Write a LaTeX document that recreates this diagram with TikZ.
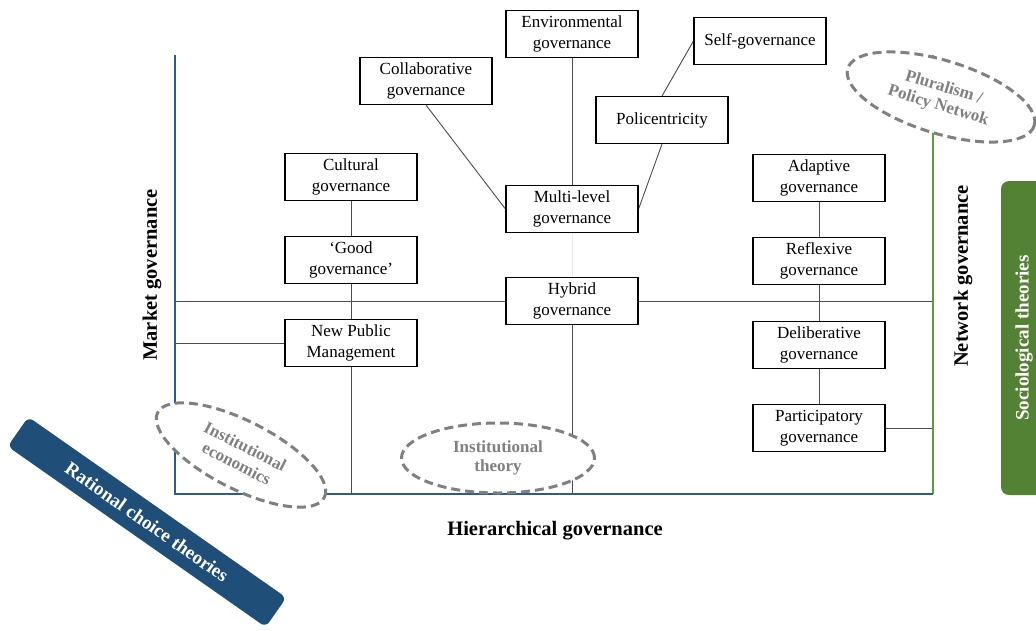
\documentclass[tikz,border=0pt]{standalone}
\usepackage{fontspec}
\setmainfont{Liberation Serif}
\usetikzlibrary{shapes.geometric}
\definecolor{axisblue}{HTML}{2E5C8A}
\definecolor{darkblue}{HTML}{1F4E79}
\definecolor{axisgreen}{HTML}{5E9B3A}
\definecolor{socgreen}{HTML}{548235}
\definecolor{dashgray}{HTML}{808080}
\pgfdeclarelayer{back}
\pgfsetlayers{back,main}
\begin{document}
\begin{tikzpicture}[x=1pt,y=-1pt,
  govbox/.style={draw=black, line width=1.1pt, fill=white, minimum width=132pt,
    minimum height=47pt, inner sep=2pt, align=center,
    font=\fontsize{17}{21}\selectfont},
  link/.style={draw=black!70, line width=0.9pt},
  axisline/.style={line width=2pt},
  theory/.style={ellipse, draw=dashgray, dash pattern=on 9pt off 5pt, line width=3pt,
    fill=white, text=dashgray, font=\fontsize{17}{19}\selectfont\bfseries,
    align=center, inner sep=0pt},
  axislabel/.style={font=\fontsize{20.5}{24}\selectfont\bfseries},
  family/.style={text=white, font=\fontsize{19}{22}\selectfont\bfseries, inner sep=0pt}
  ]
\clip (0,0) rectangle (1036,630);
\useasboundingbox (0,0) rectangle (1036,630);

% frame corners and line ends
\coordinate (tl) at (175,55);
\coordinate (bl) at (175,494);
\coordinate (br) at (933,494);
\coordinate (tr) at (933,55);
\coordinate (ml) at (175,301);
\coordinate (mr) at (933,301);
\coordinate (nl) at (175,343);

% governance forms
\node[govbox] (env)    at (572,34)  {Environmental\\governance};
\node[govbox] (self)   at (760,41)  {Self-governance};
\node[govbox] (collab) at (426,81)  {Collaborative\\governance};
\node[govbox] (poli)   at (662,120) {Policentricity};
\node[govbox] (cult)   at (351,177) {Cultural\\governance};
\node[govbox] (multi)  at (572,209) {Multi-level\\governance};
\node[govbox] (adapt)  at (819,178) {Adaptive\\governance};
\node[govbox] (good)   at (351,260) {‘Good\\governance’};
\node[govbox] (reflex) at (819,261) {Reflexive\\governance};
\node[govbox] (hybrid) at (572,301) {Hybrid\\governance};
\node[govbox] (npm)    at (351,343) {New Public\\Management};
\node[govbox] (delib)  at (819,345) {Deliberative\\governance};
\node[govbox] (partic) at (819,428) {Participatory\\governance};

% connectors and frame, drawn beneath the boxes
\begin{pgfonlayer}{back}
  \draw[link] (ml) -- (mr);
  \draw[link] (nl) -- (npm.west);
  \draw[link] (partic.east) -- (partic.east -| tr);
  \draw[link] (env.south) -- (multi.north);
  \draw[link] (self.west) -- (poli.north);
  \draw[link] (poli.south) -- (multi.east);
  \draw[link] (collab.south) -- (multi.west);
  \draw[draw=axisblue!12, line width=0.9pt] (multi.south) -- (hybrid.north);
  \draw[link] (hybrid.south) -- (hybrid.south |- bl);
  \draw[link] (cult.south) -- (good.north);
  \draw[link] (good.south) -- (npm.north);
  \draw[link] (npm.south) -- (npm.south |- bl);
  \draw[link] (adapt.south) -- (reflex.north);
  \draw[link] (reflex.south) -- (delib.north);
  \draw[link] (delib.south) -- (partic.north);
  % frame
  \draw[axisline, draw=axisgreen] (tr) -- (br);
  \draw[axisline, draw=axisblue, line join=miter] (tl) -- (bl) -- (br);
\end{pgfonlayer}

% theoretical traditions
\node[theory, minimum width=195pt, minimum height=73pt, rotate=-17] (plural) at (941,97)
  {Pluralism /\\Policy Netwok};
\node[theory, minimum width=187pt, minimum height=68pt, rotate=-27] (insteco) at (241,455)
  {Institutional\\economics};
\node[theory, minimum width=193pt, minimum height=70pt] (instth) at (498,458)
  {Institutional\\theory};

% axis labels
\node[axislabel, rotate=90] (market) at (152,275) {Market governance};
\node[axislabel, rotate=90] (network) at (963,276) {Network governance};
\node[axislabel] (hier) at (555,531) {Hierarchical governance};

% families of theories
\node[family, fill=darkblue, rounded corners=6pt, minimum width=315pt, minimum height=36pt,
  rotate=-35] (rational) at (147,522) {Rational choice theories};
\node[family, fill=socgreen, rounded corners=8pt, minimum width=314pt, minimum height=46pt,
  rotate=90] (socio) at (1024,338) {Sociological theories};
\end{tikzpicture}
\end{document}
